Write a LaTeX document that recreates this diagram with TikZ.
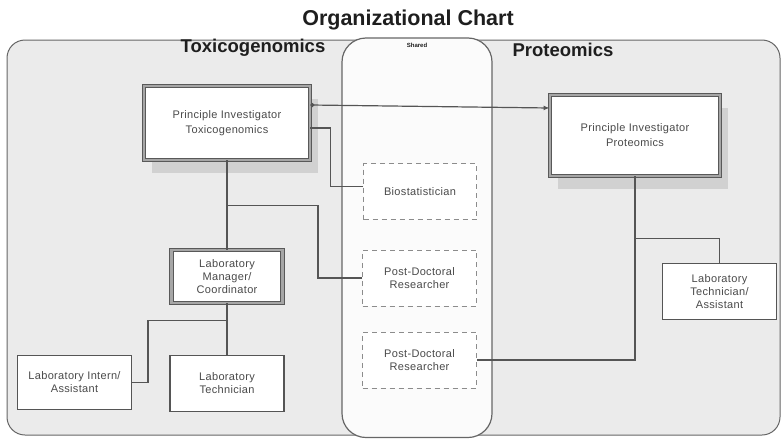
\documentclass[tikz,border=0pt]{standalone}
\usepackage{fontspec}
\setmainfont{Liberation Sans}
\newfontfamily\labelfont{Liberation Sans}[LetterSpace=3]
\usetikzlibrary{arrows.meta,calc,shadows}
\definecolor{panelbg}{HTML}{EBEBEB}
\definecolor{sharedbg}{HTML}{FBFBFB}
\definecolor{edge}{HTML}{555555}
\definecolor{ink}{HTML}{4A4A4A}
\definecolor{headink}{HTML}{1E1E1E}

\begin{document}
\begin{tikzpicture}[x=1pt,y=-1pt,
  conn/.style={draw=edge, line width=1.2pt},
  unitbox/.style={draw=edge, line width=1.1pt, fill=white, align=center, text=ink,
    font=\labelfont\fontsize{11}{13}\selectfont, inner sep=2pt},
  leadbox/.style={unitbox, draw=black!65, double=black!35, double distance=2.4pt, line width=0.9pt},
  pibox/.style={leadbox, font=\labelfont\fontsize{11}{15}\selectfont,
    drop shadow={shadow xshift=8pt, shadow yshift=-13pt, fill=black!22, opacity=0.7}},
  sharedbox/.style={unitbox, draw=black!45, dashed, dash pattern=on 5pt off 4pt, line width=1pt},
  heading/.style={font=\bfseries\fontsize{18.5}{20}\selectfont, text=headink},
]

\useasboundingbox (0,0) rectangle (781,439);

% group panels
\draw[fill=panelbg, draw=black!60, line width=1pt, rounded corners=18pt] (7,40) rectangle (780,435);
\draw[fill=sharedbg, draw=black!60, line width=1.2pt, rounded corners=24pt] (342,38) rectangle (492,437.5);

% headings
\node[heading, font=\bfseries\fontsize{21.5}{23}\selectfont] (title) at (408,20) {Organizational Chart};
\node[heading] (tox) at (253,48) {Toxicogenomics};
\node[heading] (prot) at (563,50) {Proteomics};
\node[font=\bfseries\fontsize{6}{7}\selectfont, text=headink] (shared) at (417,45) {Shared};

% positions
\node[pibox, minimum width=166pt, minimum height=74pt] (pitox) at (227,123) {Principle Investigator\\Toxicogenomics};
\node[pibox, minimum width=170pt, minimum height=81pt] (piprot) at (635,135.5) {Principle Investigator\\Proteomics};
\node[leadbox, minimum width=111pt, minimum height=53pt] (mgr) at (227,276.5) {Laboratory\\Manager/\\Coordinator};
\node[unitbox, minimum width=114pt, minimum height=54pt] (intern) at (74.5,382.5) {Laboratory Intern/\\Assistant};
\node[unitbox, minimum width=114pt, minimum height=56pt] (tech) at (227,383.5) {Laboratory\\Technician};
\node[unitbox, minimum width=114pt, minimum height=56pt] (techasst) at (719.5,291.5) {Laboratory\\Technician/\\Assistant};
\node[sharedbox, minimum width=113pt, minimum height=56pt] (bio) at (420,191.5) {Biostatistician};
\node[sharedbox, minimum width=114pt, minimum height=56pt] (pd1) at (419.5,278) {Post-Doctoral\\Researcher};
\node[sharedbox, minimum width=114pt, minimum height=56pt] (pd2) at (419.5,360) {Post-Doctoral\\Researcher};

% reporting lines
\draw[conn, {Circle[length=4pt]}-{Latex[length=6pt,width=5pt]}]
  ($(pitox.east)+(0,-18)$) -- ($(piprot.west)+(0,-27.5)$);
\draw[conn] ($(pitox.east)+(0,5)$) -- ++(20,0) |- ($(bio.west)+(0,-5)$);
\draw[conn] (pitox.south) -- (mgr.north);
\path (pitox.south) ++(0,45) coordinate (tapA);
\draw[conn] (tapA) -- ++(91,0) |- (pd1.west);
\draw[conn] (mgr.south) -- (tech.north);
\path (mgr.south) ++(0,17) coordinate (tapB);
\draw[conn] (tapB) -- ++(-79,0) |- (intern.east);
\draw[conn] (piprot.south) |- (pd2.east);
\path (piprot.south) ++(0,62) coordinate (tapC);
\draw[conn] (tapC) -| (techasst.north);

\end{tikzpicture}
\end{document}
